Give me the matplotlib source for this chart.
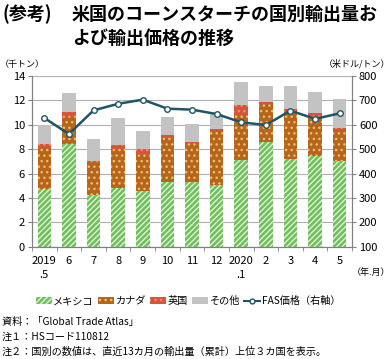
import matplotlib
matplotlib.use("Agg")
import matplotlib.pyplot as plt
from matplotlib.patches import Patch
from matplotlib.lines import Line2D
import numpy as np

plt.rcParams['font.family'] = ['Noto Sans CJK JP', 'DejaVu Sans']
plt.rcParams['hatch.linewidth'] = 1.0

months = ['2019\n.5', '6', '7', '8', '9', '10', '11', '12', '2020\n.1', '2', '3', '4', '5']
mexico = [4.7, 8.4, 4.2, 4.85, 4.55, 5.3, 5.3, 5.05, 7.1, 8.6, 7.2, 7.45, 7.05]
canada = [3.5, 2.25, 2.75, 3.2, 2.95, 3.65, 3.2, 4.45, 3.7, 3.1, 3.95, 3.05, 2.55]
uk = [0.2, 0.4, 0.1, 0.3, 0.5, 0.25, 0.1, 0.15, 0.8, 0.15, 0.15, 0.45, 0.1]
other = [1.6, 1.55, 1.75, 2.2, 1.5, 1.4, 1.45, 1.25, 1.9, 1.3, 1.85, 1.75, 2.45]
fas = [628, 562, 659, 686, 703, 666, 662, 644, 610, 599, 658, 624, 647]

fig = plt.figure(figsize=(3.91, 3.59), dpi=100)
ax = fig.add_axes([32/391, 1-246.7/359, 320/391, 170.7/359])
x = np.arange(len(months))
w = 0.55

b0 = np.zeros(len(x))
series = [
    (mexico, '#6fbf5c', '#e0f2d6', '//////', 'メキシコ'),
    (canada, '#b5651d', '#f0c060', '...', 'カナダ'),
    (uk, '#d6553a', '#f09070', '...', '英国'),
    (other, '#c3c3c3', '#c3c3c3', None, 'その他'),
]
handles = []
for vals, fc, hc, hatch, lab in series:
    ax.bar(x, vals, w, bottom=b0, color=fc, edgecolor=hc, hatch=hatch, linewidth=0, zorder=2)
    b0 = b0 + np.array(vals)
    handles.append(Patch(facecolor=fc, edgecolor=hc, hatch=hatch, linewidth=0, label=lab))

ax.set_ylim(0, 14)
ax.set_yticks(range(0, 15, 2))
ax.set_xlim(-0.5, len(x) - 0.5)
ax.set_xticks(x)
ax.set_xticklabels(months, fontsize=8, linespacing=1.5, va='top')
ax.set_xticks(np.arange(-0.5, len(x), 1), minor=True)
ax.tick_params(axis='x', which='major', length=0, pad=7)
ax.tick_params(axis='x', which='minor', length=3, color='#808080')
ax.tick_params(axis='y', labelsize=8, length=3, color='#808080', pad=2)
ax.grid(axis='y', color='#b0b0b0', linewidth=0.8, zorder=0)
ax.set_axisbelow(True)
for s in ['left', 'right', 'bottom']:
    ax.spines[s].set_color('#808080')
ax.spines['top'].set_visible(False)

ax2 = ax.twinx()
ax2.plot(x, fas, color='#1f5566', linewidth=1.8, marker='o', markersize=4,
         markerfacecolor='white', markeredgecolor='#1f5566', markeredgewidth=1.0, zorder=5)
ax2.set_ylim(100, 800)
ax2.set_yticks(range(100, 801, 100))
ax2.tick_params(axis='y', labelsize=8, length=3, color='#808080', pad=2)
for s in ['left', 'right', 'bottom']:
    ax2.spines[s].set_color('#808080')
ax2.spines['top'].set_visible(False)

handles.append(Line2D([0], [0], color='#1f5566', linewidth=1.5, marker='o', markersize=3.5,
                      markerfacecolor='white', label='FAS価格（右軸）'))

fig.legend(handles=handles, loc='center', bbox_to_anchor=(188/391, 1-301/359), ncol=5,
           frameon=False, fontsize=7.3, handlelength=1.6, handleheight=0.6,
           handletextpad=0.15, columnspacing=0.4, borderaxespad=0)

fig.text(2/391, 1-14/359, '(参考)', fontsize=13, fontweight='bold', va='center', ha='left')
fig.text(72/391, 1-14/359, '米国のコーンスターチの国別輸出量お', fontsize=13, fontweight='bold', va='center', ha='left')
fig.text(72/391, 1-38/359, 'よび輸出価格の推移', fontsize=13, fontweight='bold', va='center', ha='left')

fig.text(0/391, 1-64/359, '（千トン）', fontsize=6.5, va='center', ha='left')
fig.text(390/391, 1-64/359, '（米ドル/トン）', fontsize=6.5, va='center', ha='right')
fig.text(390/391, 1-272/359, '（年.月）', fontsize=6.5, va='center', ha='right')

fig.text(2/391, 1-322/359, '資料：「Global Trade Atlas」', fontsize=7.3, va='center', ha='left')
fig.text(2/391, 1-337/359, '注１：HSコード110812', fontsize=7.3, va='center', ha='left')
fig.text(2/391, 1-352/359, '注２：国別の数値は、直近13カ月の輸出量（累計）上位３カ国を表示。', fontsize=7.3, va='center', ha='left')

fig.savefig('out.png', dpi=100)
